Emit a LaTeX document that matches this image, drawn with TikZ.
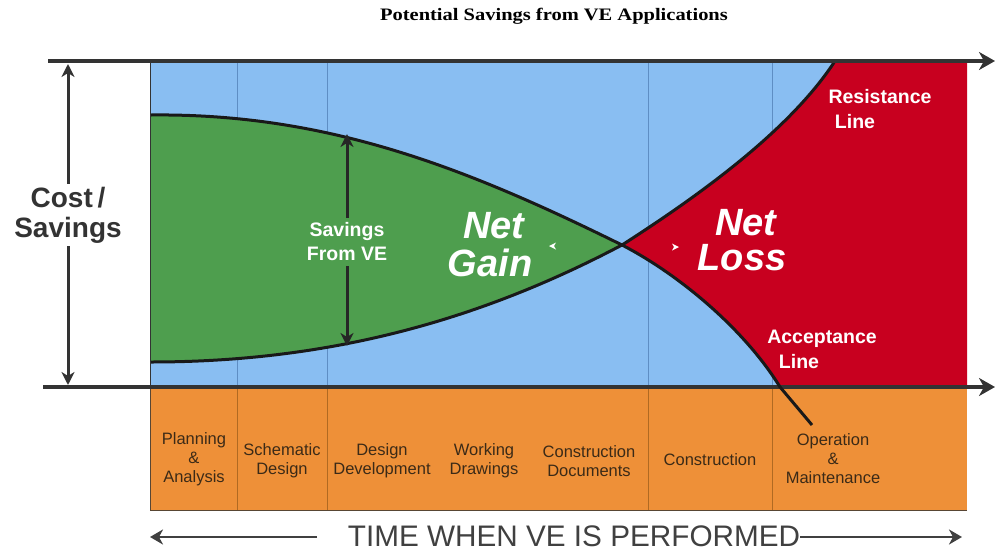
\documentclass[tikz,border=0pt]{standalone}
\usepackage{fontspec}
\setmainfont{Liberation Sans}
\newfontfamily\titlefont{Liberation Serif}
\usetikzlibrary{arrows.meta}
\definecolor{skyfill}{HTML}{89BEF2}
\definecolor{gainfill}{HTML}{4E9E4E}
\definecolor{lossfill}{HTML}{C8001F}
\definecolor{phasefill}{HTML}{EE9038}
\definecolor{axisgray}{HTML}{333333}
\definecolor{phasetext}{HTML}{3B2A17}
\definecolor{bluediv}{HTML}{5E8EC4}
\definecolor{orangediv}{HTML}{B06A22}
\definecolor{timegray}{HTML}{404040}
\begin{document}
\begin{tikzpicture}[x=1pt,y=-1pt,
  axisline/.style={draw=axisgray, line width=4pt, -{Stealth[length=16pt,width=18pt,inset=5pt]}},
  curveline/.style={draw=black!90, line width=3pt},
  dimarrow/.style={draw=axisgray, line width=3pt, -{Stealth[length=13pt,width=13pt,inset=4pt]}},
  timearrow/.style={draw=timegray, line width=2.5pt, -{Stealth[length=13pt,width=15pt,inset=4pt]}},
  bigword/.style={text=white, font=\fontsize{38}{34}\selectfont\bfseries\itshape, inner sep=0pt, anchor=base},
  linelabel/.style={text=white, font=\fontsize{19.5}{24}\selectfont\bfseries, inner sep=0pt, anchor=base},
  phaselabel/.style={text=phasetext, font=\fontsize{16.5}{19}\selectfont, align=center, inner sep=0pt},
  bluedivider/.style={draw=bluediv, line width=0.8pt},
  orangedivider/.style={draw=orangediv, line width=0.7pt}
]
\useasboundingbox (0,0) rectangle (997,552);

% title
\node[font=\titlefont\fontsize{17.5}{20}\selectfont\bfseries, xscale=1.17, anchor=base, inner sep=0pt] (title) at (554,20) {Potential Savings from VE Applications};

% chart background
\fill[skyfill] (150,61) rectangle (967,386);
\foreach \x in {237,327,648,772} \draw[bluedivider] (\x,61) -- (\x,386);
\draw[axisgray, line width=1pt] (150,61) -- (150,386);

\coordinate (X) at (622,245);
\coordinate (gtop) at (151,115);
\coordinate (gbot) at (151,362);
\coordinate (rtop) at (835,61);
\coordinate (abot) at (780,387);
\coordinate (aend) at (812,425);

% net gain region
\fill[gainfill] (gtop) .. controls (330,113) and (470,170) .. (X) .. controls (480,320) and (330,362) .. (gbot) -- cycle;
\draw[curveline] (gtop) .. controls (330,113) and (470,170) .. (X);
\draw[curveline] (gbot) .. controls (330,362) and (480,320) .. (X);

% net loss region
\fill[lossfill] (X) .. controls (700,195) and (790,130) .. (rtop) -- (967,61) -- (967,386) -- (abot) .. controls (745,330) and (680,275) .. (X) -- cycle;
\draw[curveline] (X) .. controls (700,195) and (790,130) .. (rtop);

% phase band
\fill[phasefill] (150,388) rectangle (967,510);
\draw[axisgray!80!phasefill, line width=1pt] (150,388) -- (150,510) -- (967,510);
\foreach \x in {237,327,648,772} \draw[orangedivider] (\x,388) -- (\x,510);

% axes
\coordinate (ta0) at (48,61);
\coordinate (ta1) at (995,61);
\coordinate (ba0) at (43,387);
\coordinate (ba1) at (995,387);
\draw[axisline] (ta0) -- (ta1);
\draw[axisline] (ba0) -- (ba1);

% acceptance line
\draw[curveline] (X) .. controls (680,275) and (745,330) .. (abot) -- (aend);

% small white pointers
\fill[white] (549,246) -- (556,242.5) -- (554,246) -- (556,249.5) -- cycle;
\fill[white] (679,247) -- (672,243.5) -- (674,247) -- (672,250.5) -- cycle;

% cost / savings
\node[text=axisgray, font=\fontsize{28}{30}\selectfont\bfseries, align=center, inner sep=3pt] (cost) at (68,215) {Cost\,/\\Savings};
\coordinate (costtop) at (68,64);
\coordinate (costbot) at (68,385);
\draw[dimarrow] (cost.north) -- (costtop);
\draw[dimarrow] (cost.south) -- (costbot);

% savings from VE
\node[text=white, font=\fontsize{19.5}{24}\selectfont\bfseries, align=center, inner sep=5pt] (sfve) at (347,242) {Savings\\From VE};
\coordinate (sftop) at (347,134);
\coordinate (sfbot) at (347,346);
\draw[dimarrow, draw=black!85] (sfve.north) -- (sftop);
\draw[dimarrow, draw=black!85] (sfve.south) -- (sfbot);

% big words
\node[bigword] (gain1) at (494,238) {Net};
\node[bigword] (gain2) at (490,276) {Gain};
\node[bigword] (loss1) at (746,235) {Net};
\node[bigword] (loss2) at (742,270) {Loss};

% line labels
\node[linelabel] (res1) at (880,103) {Resistance};
\node[linelabel] (res2) at (855,128) {Line};
\node[linelabel] (acc1) at (822,343) {Acceptance};
\node[linelabel] (acc2) at (799,368) {Line};

% phases
\node[phaselabel] (p1) at (194,459) {Planning\\\&\\Analysis};
\node[phaselabel] (p2) at (282,461) {Schematic\\Design};
\node[phaselabel] (p3) at (382,461) {Design\\Development};
\node[phaselabel] (p4) at (484,461) {Working\\Drawings};
\node[phaselabel] (p5) at (589,461) {Construction\\Documents};
\node[phaselabel, anchor=base] (p6) at (710,465) {Construction};
\node[phaselabel] (p7) at (833,459) {Operation\\\&\\Maintenance};

% time axis
\node[text=timegray, font=\fontsize{29.7}{32}\selectfont, anchor=base, inner sep=0pt] (time) at (574,546) {TIME WHEN VE IS PERFORMED};
\coordinate (tl1) at (317,537);
\coordinate (tl2) at (150,537);
\coordinate (tr1) at (800,537);
\coordinate (tr2) at (962,537);
\draw[timearrow] (tl1) -- (tl2);
\draw[timearrow] (tr1) -- (tr2);
\end{tikzpicture}
\end{document}
